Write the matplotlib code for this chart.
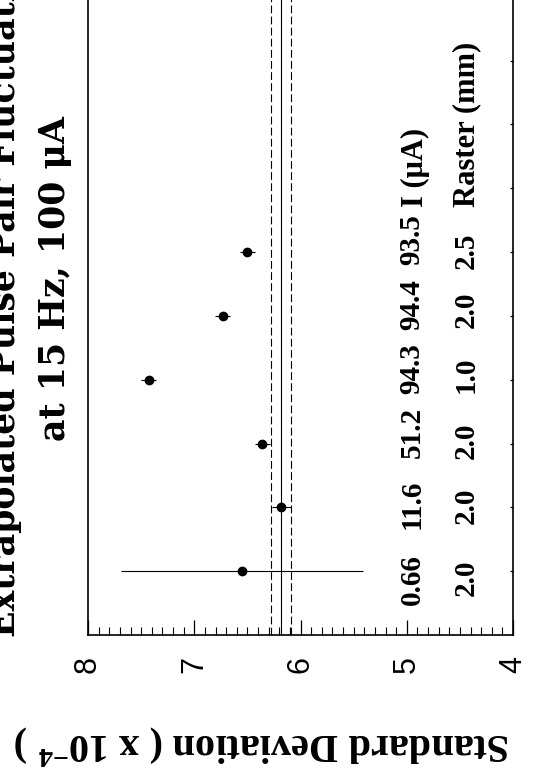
import numpy as np
import matplotlib
matplotlib.use("Agg")
import matplotlib.pyplot as plt

plt.rcParams['mathtext.fontset'] = 'custom'
plt.rcParams['mathtext.rm'] = 'Liberation Serif:bold'
plt.rcParams['mathtext.bf'] = 'Liberation Serif:bold'
plt.rcParams['mathtext.it'] = 'Liberation Serif:bold'

# extrapolated pulse-pair std. deviation (x 1e-4) for each run
run = [1, 2, 3, 4, 5, 6]
sigma = [6.55, 6.18, 6.36, 7.43, 6.73, 6.50]
sigma_err = [1.14, 0.09, 0.07, 0.07, 0.07, 0.07]
current = ["0.66", "11.6", "51.2", "94.3", "94.4", "93.5"]
raster = ["2.0", "2.0", "2.0", "1.0", "2.0", "2.5"]

# weighted mean and its error band
mean_sigma = 6.18
mean_err = 0.093

serif = 'Liberation Serif'

fig = plt.figure(figsize=(5.41, 7.83), dpi=100)
# page is drawn turned on its side: std. deviation runs along the bottom,
# run number goes up the page and the top of the frame runs off the sheet
ax = fig.add_axes([88 / 541, 148 / 783, 425 / 541, 766 / 783])

ax.errorbar(sigma, run, xerr=sigma_err, fmt='o', color='black',
            markersize=6, elinewidth=0.8, capsize=0)

ax.axvline(mean_sigma, color='black', lw=0.8)
for s in (mean_sigma - mean_err, mean_sigma + mean_err):
    ax.axvline(s, color='black', lw=0.8, linestyle=(0, (7, 3)))

ax.set_xlim(8, 4)
ax.set_ylim(0, 12)

ax.set_xticks(np.arange(4, 8.01, 1))
ax.set_xticks(np.arange(4, 8.01, 0.1), minor=True)
ax.tick_params(axis='x', which='major', direction='in', length=11, width=0.9,
               labelsize=22, labelrotation=90, pad=15, top=False)
ax.tick_params(axis='x', which='minor', direction='in', length=5.5, width=0.8,
               top=False)
for lab in ax.get_xticklabels():
    lab.set_family('Liberation Sans')

ax.set_yticks(np.arange(1, 12))
ax.yaxis.tick_right()
ax.tick_params(axis='y', direction='in', length=2, width=0.9,
               labelright=False, left=False)

for sp in ax.spines.values():
    sp.set_linewidth(1.2)

# beam current and raster size written under each run
cur_shift = [-0.125, 0.05, 0.18, 0.18, 0.18, 0.2]
ras_shift = [-0.11, 0.03, 0.05, 0.07, 0.09, 0.02]
for i, r in enumerate(run):
    ax.text(4.95, r + cur_shift[i], current[i], rotation=90, ha='center',
            va='center', fontsize=21, fontweight='bold', family=serif)
    ax.text(4.44, r + ras_shift[i], raster[i], rotation=90, ha='center',
            va='center', fontsize=21, fontweight='bold', family=serif)
ax.text(4.92, 6.71, 'I (μA)', rotation=90, ha='center', va='bottom',
        fontsize=22, fontweight='bold', family=serif)
ax.text(4.44, 6.71, 'Raster (mm)', rotation=90, ha='center', va='bottom',
        fontsize=22, fontweight='bold', family=serif)

# axis title (upside down on the turned page)
fig.text(262 / 541, 1 - 745 / 783, 'Standard Deviation ( x 10$^{-4}$ )',
         rotation=180, ha='center', va='center', fontsize=29,
         fontweight='bold', family=serif)

# plot title, two lines reading up the left edge
fig.text(22 / 541, 1 - 279 / 783, 'Extrapolated Pulse Pair Fluctuations',
         rotation=90, ha='right', va='center', fontsize=25,
         fontweight='bold', family='DejaVu Serif')
fig.text(72 / 541, 1 - 279 / 783, 'at 15 Hz, 100 μA',
         rotation=90, ha='right', va='center', fontsize=25,
         fontweight='bold', family='DejaVu Serif')

fig.savefig('out.png', dpi=100)
